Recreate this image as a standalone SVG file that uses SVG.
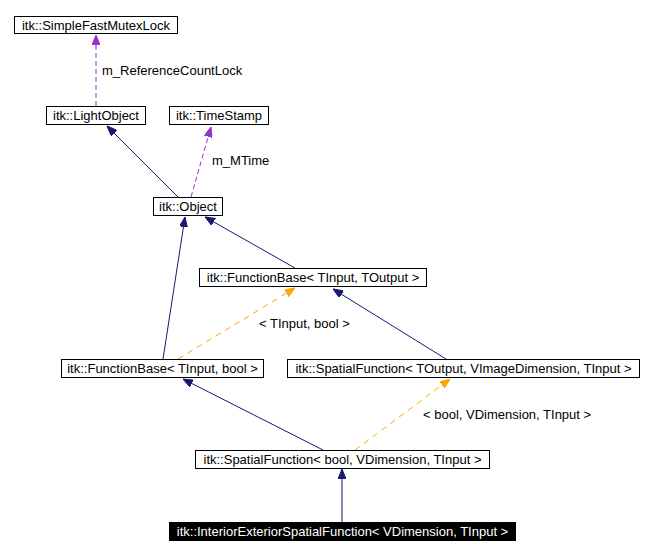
<svg xmlns="http://www.w3.org/2000/svg" width="653" height="555" viewBox="0 0 653 555">
<style>
.box{fill:#fff;stroke:#000;stroke-width:1}
.t{font-family:"Liberation Sans",Arial,sans-serif;font-size:13px;fill:#000;text-anchor:middle}
.lbl{font-family:"Liberation Sans",Arial,sans-serif;font-size:13px;fill:#000}
.inh{stroke:#191970;stroke-width:1;fill:none}
.use{stroke:#9a32cd;stroke-width:1;fill:none;stroke-dasharray:5,3}
.tpl{stroke:#ffa500;stroke-width:1;fill:none;stroke-dasharray:6,5}
</style>
<defs>
<marker id="aN" markerWidth="10" markerHeight="8" refX="10" refY="4" orient="auto" markerUnits="userSpaceOnUse"><path d="M0,0 L10,4 L0,8 z" fill="#191970" stroke="#191970"/></marker>
<marker id="aP" markerWidth="10" markerHeight="8" refX="10" refY="4" orient="auto" markerUnits="userSpaceOnUse"><path d="M0,0 L10,4 L0,8 z" fill="#9a32cd" stroke="#9a32cd"/></marker>
<marker id="aO" markerWidth="10" markerHeight="8" refX="10" refY="4" orient="auto" markerUnits="userSpaceOnUse"><path d="M0,0 L10,4 L0,8 z" fill="#ffa500" stroke="#ffa500"/></marker>
</defs>
<rect width="653" height="555" fill="#fff"/>
<g id="connectors">
<path class="use" d="M96,106 L96,35" marker-end="url(#aP)"/>
<path class="inh" d="M178,197 L107,126" marker-end="url(#aN)"/>
<path class="use" d="M191,197 L211,127" marker-end="url(#aP)"/>
<path class="inh" d="M295,268 L205,217" marker-end="url(#aN)"/>
<path class="inh" d="M163,359 L185,217" marker-end="url(#aN)"/>
<path class="tpl" d="M178,359 L295,288" marker-end="url(#aO)"/>
<path class="inh" d="M446,359 L333,289" marker-end="url(#aN)"/>
<path class="inh" d="M323,450 L183,379" marker-end="url(#aN)"/>
<path class="tpl" d="M355,450 L450,379" marker-end="url(#aO)"/>
<path class="inh" d="M342,522 L342,469" marker-end="url(#aN)"/>
<text class="lbl" x="102" y="75">m_ReferenceCountLock</text>
<text class="lbl" x="212" y="165">m_MTime</text>
<text class="lbl" x="259" y="328">&lt; TInput, bool &gt;</text>
<text class="lbl" x="423" y="419">&lt; bool, VDimension, TInput &gt;</text>
</g>
<g id="SimpleFastMutexLock"><rect class="box" x="14.5" y="16.5" width="163" height="17"/><text class="t" x="96" y="29.5">itk::SimpleFastMutexLock</text></g>
<g id="LightObject"><rect class="box" x="46.5" y="106.5" width="99" height="18"/><text class="t" x="96" y="120">itk::LightObject</text></g>
<g id="TimeStamp"><rect class="box" x="169.5" y="106.5" width="99" height="18"/><text class="t" x="219" y="120">itk::TimeStamp</text></g>
<g id="Object"><rect class="box" x="153.5" y="197.5" width="69" height="18"/><text class="t" x="188" y="211">itk::Object</text></g>
<g id="FunctionBaseTInputTOutput"><rect class="box" x="199.5" y="268.5" width="227" height="18"/><text class="t" x="313" y="282">itk::FunctionBase&lt; TInput, TOutput &gt;</text></g>
<g id="FunctionBaseTInputBool"><rect class="box" x="61.5" y="359.5" width="202" height="18"/><text class="t" x="162.5" y="373">itk::FunctionBase&lt; TInput, bool &gt;</text></g>
<g id="SpatialFunctionTOutput"><rect class="box" x="287.5" y="359.5" width="352" height="18"/><text class="t" x="463.5" y="373">itk::SpatialFunction&lt; TOutput, VImageDimension, TInput &gt;</text></g>
<g id="SpatialFunctionBool"><rect class="box" x="195.5" y="450.5" width="294" height="18"/><text class="t" x="342.5" y="464">itk::SpatialFunction&lt; bool, VDimension, TInput &gt;</text></g>
<g id="InteriorExteriorSpatialFunction"><rect x="169" y="522" width="347" height="19" fill="#000"/><text class="t" x="342.5" y="536" style="fill:#fff">itk::InteriorExteriorSpatialFunction&lt; VDimension, TInput &gt;</text></g>
</svg>
